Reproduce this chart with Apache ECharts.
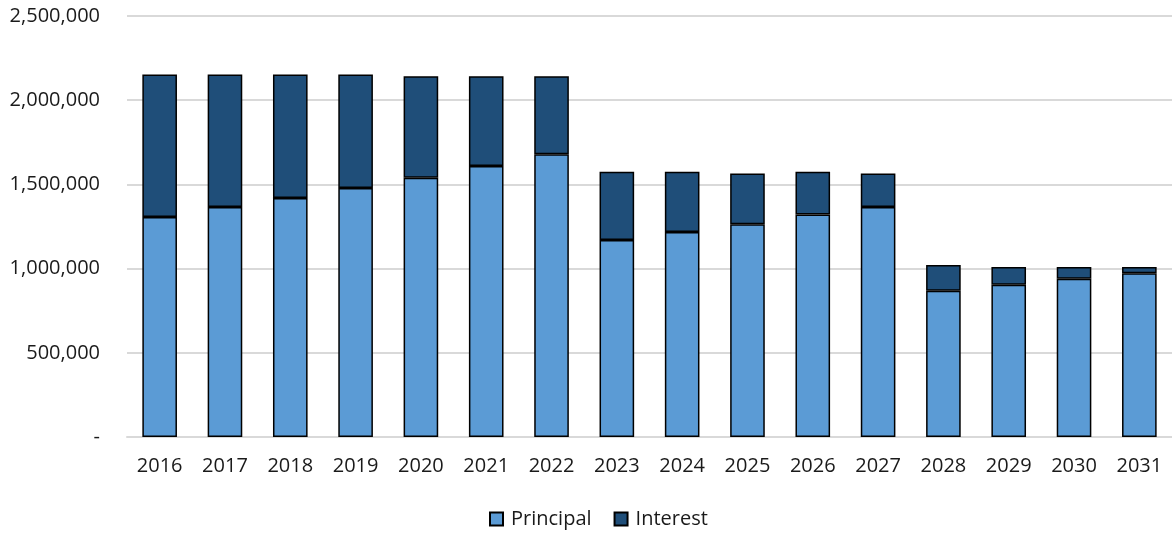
<!DOCTYPE html>
<html>
<head>
<meta charset="utf-8">
<script src="https://cdn.jsdelivr.net/npm/echarts@6/dist/echarts.min.js"></script>
<style>
  html, body { margin: 0; padding: 0; background: #fff; }
  #chart { width: 1172px; height: 533px; }
</style>
</head>
<body>
<div id="chart"></div>
<script>
const years = ['2016','2017','2018','2019','2020','2021','2022','2023','2024','2025','2026','2027','2028','2029','2030','2031'];
const principal = [1306000, 1366000, 1419000, 1479000, 1540000, 1609000, 1679000, 1170000, 1217000, 1263000, 1322000, 1366000, 869000, 904000, 940000, 972000];
const interest  = [846000, 786000, 733000, 673000, 602000, 533000, 463000, 405000, 358000, 301000, 253000, 198000, 153000, 105000, 69000, 37000];
const yTicks = [0, 500000, 1000000, 1500000, 2000000, 2500000];

const FONT = '"Open Sans", Lato, sans-serif';

// zero is shown as a dash, everything else with thousands separators
function fmt(v) {
  if (v === 0) return '-';
  return v.toLocaleString('en-US');
}

const chart = echarts.init(document.getElementById('chart'));
chart.setOption({
  animation: false,
  textStyle: { fontFamily: FONT },
  grid: { left: 127, right: 0, top: 16, bottom: 96, containLabel: false },
  legend: {
    top: 504,
    left: 484,
    itemWidth: 13,
    itemHeight: 13,
    itemGap: 22,
    icon: 'rect',
    textStyle: { fontSize: 20, color: '#1a1a1a', fontFamily: FONT, padding: [0, 0, 0, 3] },
    data: ['Principal', 'Interest']
  },
  xAxis: {
    type: 'category',
    data: years,
    axisTick: { show: false },
    axisLine: { lineStyle: { color: '#d9d9d9', width: 2 } },
    axisLabel: { fontSize: 20, color: '#1a1a1a', margin: 19, fontFamily: FONT }
  },
  yAxis: {
    type: 'value',
    min: yTicks[0],
    max: yTicks[yTicks.length - 1],
    interval: 500000,
    axisLine: { show: false },
    axisTick: { show: false },
    splitLine: { lineStyle: { color: '#d9d9d9', width: 2 } },
    axisLabel: { fontSize: 20, color: '#1a1a1a', margin: 27, formatter: fmt, fontFamily: FONT }
  },
  series: [
    {
      name: 'Principal',
      type: 'bar',
      stack: 'total',
      barWidth: '53%',
      data: principal,
      itemStyle: { color: '#5b9bd5', borderColor: '#000', borderWidth: 1.5 }
    },
    {
      name: 'Interest',
      type: 'bar',
      stack: 'total',
      barWidth: '53%',
      data: interest,
      itemStyle: { color: '#1f4e79', borderColor: '#000', borderWidth: 1.5 }
    }
  ]
});
</script>
</body>
</html>
